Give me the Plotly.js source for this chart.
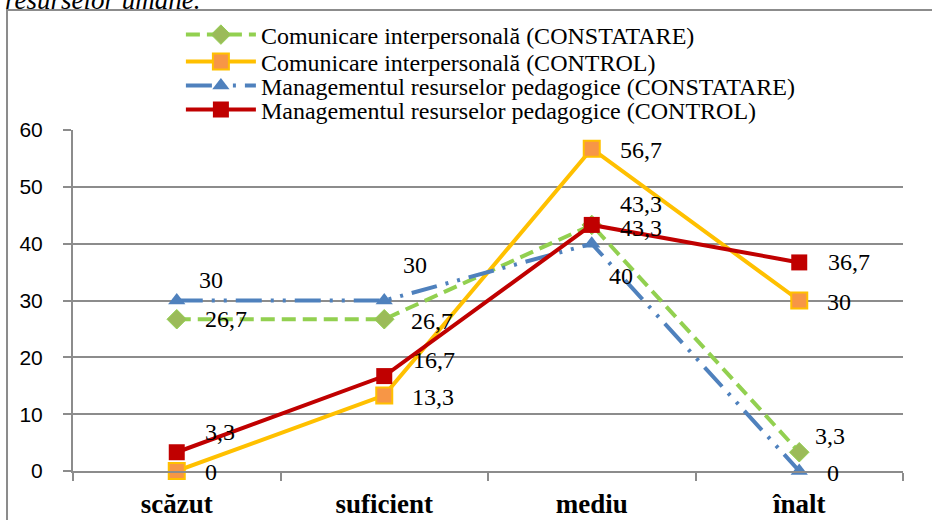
<!DOCTYPE html>
<html>
<head>
<meta charset="utf-8">
<script src="https://cdn.plot.ly/plotly-3.0.1.min.js"></script>
<style>
html,body{margin:0;padding:0;background:#fff;}
#chart{width:932px;height:520px;}
</style>
</head>
<body>
<div id="chart"></div>
<script>
var categories = ["scăzut", "suficient", "mediu", "înalt"];
var seriesNames = [
  "Comunicare interpersonală (CONSTATARE)",
  "Comunicare interpersonală (CONTROL)",
  "Managementul resurselor pedagogice (CONSTATARE)",
  "Managementul resurselor pedagogice (CONTROL)"
];
var comConstatare = [26.7, 26.7, 43.3, 3.3];
var comControl = [0, 13.3, 56.7, 30];
var manConstatare = [30, 30, 40, 0];
var manControl = [3.3, 16.7, 43.3, 36.7];
var yTicks = [0, 10, 20, 30, 40, 50, 60];
var captionText = "resurselor umane.";

var SERIF = "Liberation Serif";
var SANS = "Liberation Sans";

function lbl(v){ return String(v).replace('.', ','); }

// label offsets in px (style only): [dx, dy] per point, dy positive = up
var labelOffsets = [
  [[26, 0], [25, -2], [26, 21], [14, 16]],
  [[26, -1], [26, -2], [26, -1], [26, -1]],
  [[20, 21], [17, 36], [15, -32], [26, -2]],
  [[26, 20], [27, 16], [26, -3], [27, 0]]
];

var seriesData = [comConstatare, comControl, manConstatare, manControl];

var traces = [
  {
    x: categories, y: comConstatare, name: seriesNames[0], type: "scatter", mode: "lines+markers", legend: "legend",
    line: {color: "#92D050", width: 4, dash: "14px,7px"},
    marker: {symbol: "diamond", size: 15, color: "#9BBB59", line: {color: "#92D050", width: 1}},
    cliponaxis: false
  },
  {
    x: categories, y: comControl, name: seriesNames[1], type: "scatter", mode: "lines+markers", legend: "legend2",
    line: {color: "#FFC000", width: 4},
    marker: {symbol: "square", size: 16, color: "#F79646", line: {color: "#FFC000", width: 2}},
    cliponaxis: false
  },
  {
    x: categories, y: manConstatare, name: seriesNames[2], type: "scatter", mode: "lines+markers", legend: "legend3",
    line: {color: "#4F81BD", width: 4, dash: "26px,9px,3px,9px,3px,9px"},
    marker: {symbol: "triangle-up", size: 15, color: "#4F81BD"},
    cliponaxis: false
  },
  {
    x: categories, y: manControl, name: seriesNames[3], type: "scatter", mode: "lines+markers", legend: "legend4",
    line: {color: "#C00000", width: 4},
    marker: {symbol: "square", size: 16, color: "#C00000"},
    cliponaxis: false
  }
];

var annotations = [
  {xref: "paper", yref: "paper", x: -0.084, y: 1.38, xanchor: "left", yanchor: "middle", showarrow: false,
   text: "<i>" + captionText + "</i>", font: {family: SERIF, size: 27, color: "#000"}}
];
seriesData.forEach(function(arr, s){
  arr.forEach(function(v, i){
    annotations.push({
      x: categories[i], y: v, xref: "x", yref: "y",
      text: lbl(v), showarrow: false, xanchor: "left", yanchor: "middle",
      xshift: labelOffsets[s][i][0], yshift: labelOffsets[s][i][1],
      font: {family: SERIF, size: 24, color: "#000"}
    });
  });
});

function legendAt(yPaper){
  return {
    x: 0.13, xanchor: "left", y: yPaper, yanchor: "middle",
    font: {family: SERIF, size: 24, color: "#000"},
    bgcolor: "rgba(0,0,0,0)", itemwidth: 70
  };
}

var layout = {
  width: 932, height: 520,
  margin: {l: 73, r: 29, t: 130, b: 49, pad: 0},
  paper_bgcolor: "#fff", plot_bgcolor: "#fff",
  showlegend: true,
  legend: legendAt(1.2786),
  legend2: legendAt(1.1994),
  legend3: legendAt(1.1290),
  legend4: legendAt(1.0587),
  xaxis: {
    type: "category", categoryarray: categories, range: [-0.5, 3.5],
    showgrid: false, showline: true, linecolor: "#8c8c8c", linewidth: 2,
    ticks: "outside", tickson: "boundaries", ticklen: 8, tickcolor: "#8c8c8c", tickwidth: 2,
    ticklabelstandoff: 8,
    tickfont: {family: SERIF, size: 27, color: "#000", weight: "bold"},
    fixedrange: true, zeroline: false
  },
  yaxis: {
    range: [0, 60], tickvals: yTicks, ticktext: yTicks.map(String),
    showgrid: true, gridcolor: "#8c8c8c", gridwidth: 2,
    showline: true, linecolor: "#8c8c8c", linewidth: 2,
    ticks: "outside", ticklen: 8, tickcolor: "#8c8c8c", tickwidth: 2,
    ticklabelstandoff: 16,
    tickfont: {family: SANS, size: 21, color: "#000"},
    zeroline: false, fixedrange: true
  },
  shapes: [
    {type: "rect", xref: "paper", yref: "paper", x0: -0.0795, x1: 1.06, y0: -0.2, y1: 1.352,
     line: {color: "#8c8c8c", width: 2}, fillcolor: "rgba(0,0,0,0)", layer: "below"}
  ],
  annotations: annotations
};

Plotly.newPlot("chart", traces, layout, {displayModeBar: false, staticPlot: true});
</script>
</body>
</html>
